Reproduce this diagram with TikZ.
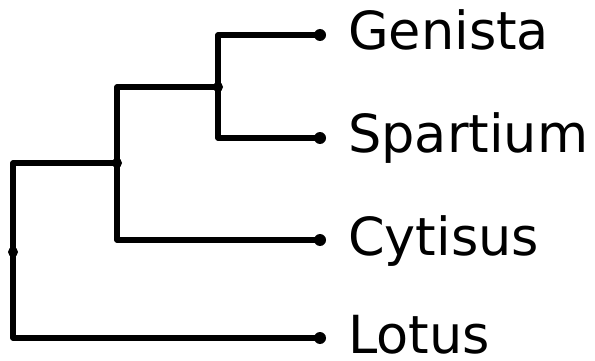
\documentclass[tikz,border=0pt]{standalone}
\usepackage{fontspec}
\setmainfont{DejaVu Sans}
\begin{document}
\begin{tikzpicture}[x=1pt,y=-1pt,
  branch/.style={line width=5.5pt,line join=round},
  leafdot/.style={circle,fill=black,inner sep=0pt,minimum size=12pt},
  innerdot/.style={circle,fill=black,inner sep=0pt,minimum size=10pt},
  lab/.style={anchor=base west,inner sep=0pt,font=\fontsize{52.5}{52.5}\selectfont}]
\useasboundingbox (0,0) rectangle (595,361);
\coordinate (g) at (320,35);
\coordinate (s) at (320,138);
\coordinate (c) at (320,240);
\coordinate (l) at (320,338);
\coordinate (n1) at (218,87);
\coordinate (n2) at (117,163);
\coordinate (r) at (13,252);
\draw[branch] (g) -| (n1) |- (s);
\draw[branch] (n1) -| (n2) |- (c);
\draw[branch] (n2) -| (r) |- (l);
\foreach \p in {g,s,c,l} \node[leafdot] at (\p) {};
\foreach \p in {n1,n2,r} \node[innerdot] at (\p) {};
\node[lab] (tg) at (348,50) {Genista};
\node[lab] (ts) at (348,153) {Spartium};
\node[lab] (tc) at (348,255) {Cytisus};
\node[lab] (tl) at (348,353) {Lotus};
\end{tikzpicture}
\end{document}
